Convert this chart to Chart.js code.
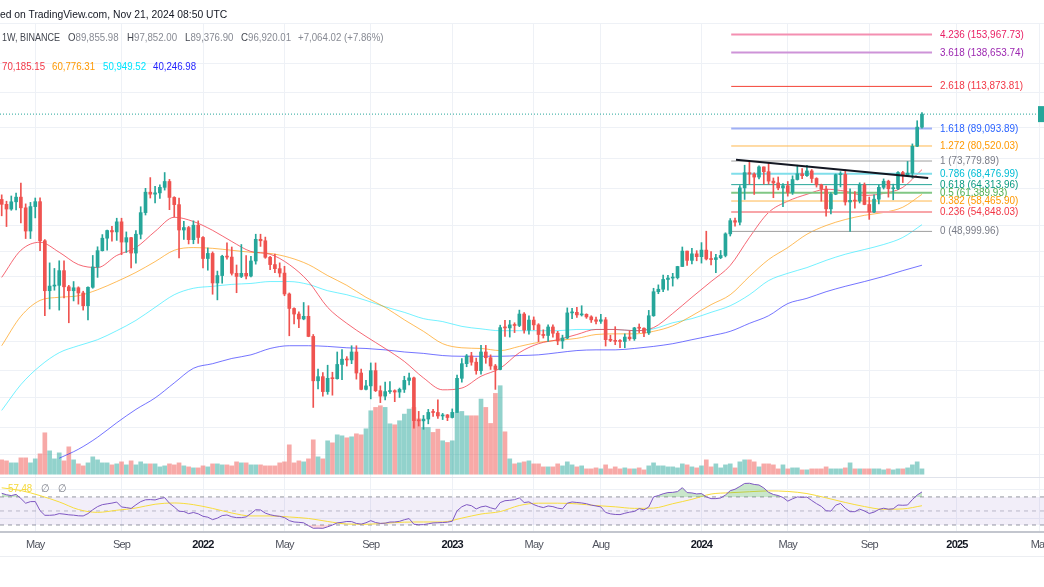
<!DOCTYPE html>
<html>
<head>
<meta charset="utf-8">
<script src="https://cdn.jsdelivr.net/npm/chart.js@4.4.1/dist/chart.umd.min.js"></script>
<style>
  html, body { margin: 0; padding: 0; background: #fff; }
  #wrap { position: relative; width: 1044px; height: 587px; overflow: hidden; }
  #chart { position: absolute; left: 0; top: 0; }
  .txt { position: absolute; white-space: nowrap; font-family: "Liberation Sans", Arial, sans-serif; font-size: 11px; line-height: 14px;
         transform: scaleX(0.88); transform-origin: 0 50%; }
  .k { color: #42464f; }
  .v { color: #878a93; }
  #axisline { position: absolute; left: 0; top: 556px; width: 1044px; height: 0; border-top: 1px solid #eceef2; }
</style>
</head>
<body>
<div id="wrap">
  <canvas id="chart" width="1044" height="587"></canvas>
  <div id="axisline"></div>
  <div class="txt" id="pub" style="top:7px; color:#131722; transform:scaleX(0.94)"><span id="pubcut">Publish</span>ed on TradingView.com, Nov 21, 2024 08:50 UTC</div>
  <div class="txt k" style="top:30px; left:2px; transform:scaleX(0.82)">1W, BINANCE</div>
  <div class="txt" style="top:30px; left:68px"><span class="k">O</span><span class="v">89,855.98</span></div>
  <div class="txt" style="top:30px; left:127px"><span class="k">H</span><span class="v">97,852.00</span></div>
  <div class="txt" style="top:30px; left:185px"><span class="k">L</span><span class="v">89,376.90</span></div>
  <div class="txt" style="top:30px; left:241px"><span class="k">C</span><span class="v">96,920.01</span></div>
  <div class="txt v" style="top:30px; left:298px">+7,064.02 (+7.86%)</div>
  <div class="txt" style="top:59px; left:2px; color:#f23645">70,185.15</div>
  <div class="txt" style="top:59px; left:52px; color:#ff9800">60,776.31</div>
  <div class="txt" style="top:59px; left:103px; color:#00e5ff">50,949.52</div>
  <div class="txt" style="top:59px; left:153px; color:#2424ff">40,246.98</div>
  <div class="txt" style="top:481px; left:8px; color:#f5d83a">57.48</div>
  <div class="txt" style="top:481px; left:41px; color:#787b86">&#8709;</div>
  <div class="txt" style="top:481px; left:58px; color:#787b86">&#8709;</div>
</div>
<script>
// weekly BTCUSDT candles, week 0 = 15 Mar 2021 ... week 192 = 18 Nov 2024
const open = [
  59000,57350,55800,58200,59800,56200,49100,56600,58250,46400,
  34700,35650,35800,39000,35500,34700,35300,34250,31800,35400,
  39850,43800,47100,49250,48850,51800,46050,47250,43200,48200,
  54650,61550,60850,61300,63300,65500,59700,57250,49400,50100,
  46700,50800,47300,41850,43100,36300,37900,42400,42200,38400,
  37700,38400,37800,41250,46800,46400,42150,40400,39450,38450,
  34050,31300,30300,29450,29900,26600,20550,21050,19300,20850,
  20800,22600,23300,23200,24300,21500,19550,19950,21800,19400,
  18800,19300,19400,19250,19550,20600,20900,16300,16280,16450,
  17100,17090,16750,16850,16600,17100,20850,22700,23750,22900,
  21800,24300,23500,22400,21950,28000,27950,28450,28350,30300,
  27600,29250,28450,26900,26750,28100,27100,25900,26350,30500,
  30600,30150,30250,29800,29300,29050,29300,26100,26000,25850,
  25830,26500,26250,27950,27900,27150,30000,34500,35000,37050,
  37350,37450,39950,43700,41400,43000,42300,43950,41750,41600,
  42050,42600,48300,52150,51700,63100,68950,68400,67200,71300,
  69350,65650,64950,63100,63900,61500,66250,68500,67750,69650,
  66650,64250,62650,55850,60800,68150,68250,58150,58700,58450,
  64200,57300,54850,59100,63300,65600,62800,62850,69000,67950,
  68750,80400,89856
];
const high = [
  60600,58400,60200,61200,64850,57500,58000,59500,59600,46700,
  40800,39500,41300,41300,35800,36600,35500,34600,35500,42600,
  44800,48100,49400,50500,52900,52900,48850,47350,49200,56550,
  62950,67000,63700,64270,69000,66300,59950,59450,51950,50450,
  52100,52100,47550,44500,43500,38900,42650,45850,44750,40300,
  45400,42600,42400,48200,48200,47400,42400,42950,40800,40000,
  34250,31400,30700,32400,31800,26900,22000,21550,22500,21600,
  24300,24650,23650,25200,25200,22000,20600,22800,22800,19950,
  20400,20450,19500,19700,21100,21500,21000,17200,16800,17400,
  17400,18400,17000,16900,17450,21250,23400,23950,24250,23450,
  25250,25250,23900,22600,28400,29200,29200,28800,31000,30550,
  30000,29800,28650,27650,28450,28450,27400,26800,31400,31300,
  31500,31800,30350,30000,29750,30250,29700,26800,28150,26100,
  27000,27450,28050,28600,27950,30950,35200,35900,38000,37950,
  38400,40000,44750,43700,44400,43800,45900,49050,43600,42850,
  43850,48600,52800,52950,64000,72000,73777,68900,71750,71300,
  72800,66850,67250,64750,65500,67700,72000,70600,71950,70200,
  66950,64500,63800,61400,68400,69350,70050,62750,61800,65000,
  64950,59800,60650,64150,66500,66000,64500,69400,69500,73600,
  81500,93250,97852
];
const low = [
  53650,50400,55400,55500,51500,47000,47000,53000,43800,30000,
  31200,34800,31000,33300,28800,32700,32100,31000,29300,35200,
  37500,43700,43900,46300,46500,42800,43350,39600,40750,46900,
  53900,59500,57800,59400,62300,55600,53250,42000,46750,45550,
  45600,45700,39650,39100,34000,32900,36250,41700,38000,34300,
  37450,37150,37600,40500,44900,41900,39200,38550,37600,33700,
  26700,28600,28000,29300,26550,17600,19600,18780,19000,18900,
  20750,20700,22400,22700,20750,19500,19500,18500,19300,18100,
  18400,19100,18200,18650,19200,20050,15600,15800,15500,16000,
  16700,16500,16400,16300,16550,17100,20400,22300,22500,21350,
  21350,22750,21950,19550,21900,26600,26500,27200,28150,27100,
  26950,27650,25800,26350,25850,26500,25350,24800,26250,29500,
  29700,29950,29550,28850,28600,28700,25150,25800,25350,24900,
  24900,26000,26000,27200,26550,26900,29900,34100,34500,34800,
  35650,37150,39950,40200,40550,41300,40750,41500,40300,38550,
  41800,42250,47700,50500,50900,59000,64500,60750,66450,64500,
  64500,59600,62400,56550,60150,60750,66050,66600,67500,65100,
  63400,58400,53500,54250,60650,63450,57100,49000,56100,57800,
  57200,52550,54600,57500,62700,59800,58900,62450,65100,67500,
  66800,80200,89377
];
const close = [
  57350,55800,58200,59800,56200,49100,56600,58250,46400,34700,
  35650,35800,39000,35500,34700,35300,34250,31800,35400,39850,
  43800,47100,49250,48850,51800,46050,47250,43200,48200,54650,
  61550,60850,61300,63300,65500,59700,57250,49400,50100,46700,
  50800,47300,41850,43100,36300,37900,42400,42200,38400,37700,
  38400,37800,41250,46800,46400,42150,40400,39450,38450,34050,
  31300,30300,29450,29900,26600,20550,21050,19300,20850,20800,
  22600,23300,23200,24300,21500,19550,19950,21800,19400,18800,
  19300,19400,19250,19550,20600,20900,16300,16280,16450,17100,
  17090,16750,16850,16600,17100,20850,22700,23750,22900,21800,
  24300,23500,22400,21950,28000,27950,28450,28350,30300,27600,
  29250,28450,26900,26750,28100,27100,25900,26350,30500,30600,
  30150,30250,29800,29300,29050,29300,26100,26000,25850,25830,
  26500,26250,27950,27900,27150,30000,34500,35000,37050,37350,
  37450,39950,43700,41400,43000,42300,43950,41750,41600,42050,
  42600,48300,52150,51700,63100,68950,68400,67200,71300,69350,
  65650,64950,63100,63900,61500,66250,68500,67750,69650,66650,
  64250,62650,55850,60800,68150,68250,58150,58700,58450,64200,
  57300,54850,59100,63300,65600,62800,62850,69000,67950,68750,
  80400,89856,96920
];
// volume, thousand BTC
const volume = [
  429,399,339,339,489,489,339,459,609,1239,
  699,459,639,399,819,429,309,249,339,519,
  429,339,339,279,309,369,279,399,279,369,
  309,309,309,219,249,309,279,339,249,219,
  189,189,249,219,309,309,279,279,249,369,
  339,339,279,279,279,249,249,249,339,369,
  879,339,399,369,459,1029,519,459,999,939,
  1179,1149,1089,1119,1209,1179,1359,1899,1999,2049,
  2000,1509,1479,1600,1799,1949,1999,1659,1399,1399,
  1250,1349,1000,950,1000,1849,1879,1749,1749,1749,
  2249,1999,1519,2419,2649,1269,459,309,339,369,
  399,309,309,219,219,219,309,249,369,279,
  219,249,159,159,189,159,279,159,219,159,
  189,159,159,189,129,249,339,249,249,219,
  219,189,309,279,219,189,249,429,219,309,
  189,279,309,189,369,429,429,369,219,309,
  309,279,159,279,159,189,189,129,129,159,
  159,159,219,159,159,159,189,339,159,159,
  159,159,159,159,129,159,129,159,159,189,
  279,369,159
];
const rsi = [
  75.2,73.1,71.9,73.6,67.8,61.0,63.3,63.4,50.5,43.8,
  43.8,44.3,46.2,45.5,44.5,44.0,43.1,42.9,46.2,51.7,
  56.2,59.0,60.1,61.2,62.7,55.7,54.8,53.6,58.7,63.3,
  65.9,66.2,65.7,67.8,69.0,61.0,55.7,49.6,49.2,46.2,
  47.8,45.9,42.4,41.1,37.6,39.8,43.4,44.3,41.7,40.5,
  40.5,41.5,46.3,51.7,51.4,46.9,44.6,43.2,42.3,40.5,
  36.2,34.3,33.8,33.1,29.0,25.3,25.5,25.2,27.4,29.9,
  33.0,33.8,35.0,34.8,32.2,31.2,33.2,36.2,33.5,32.3,
  32.6,34.2,34.3,35.2,37.5,39.1,31.1,30.3,30.5,31.7,
  32.9,33.2,33.5,34.0,35.3,50.2,56.0,59.0,57.5,52.9,
  55.8,57.0,54.5,52.6,61.9,64.6,65.2,66.1,68.6,62.0,
  62.9,59.1,56.5,54.8,57.1,56.2,54.0,53.0,61.1,62.8,
  62.1,61.4,60.3,58.3,57.1,55.8,47.9,45.9,45.0,44.8,
  46.7,48.3,49.3,53.3,51.6,55.6,70.0,72.0,74.5,76.2,
  76.5,77.6,83.2,76.2,75.7,74.3,74.8,70.1,67.6,67.6,
  68.5,72.7,78.9,81.0,84.9,89.2,89.5,87.8,87.0,82.8,
  76.6,73.5,72.0,69.2,64.0,67.3,70.0,69.4,69.8,64.9,
  60.4,56.5,50.3,49.8,58.2,60.7,53.8,49.0,49.0,52.6,
  50.0,46.4,48.3,52.1,53.9,52.5,53.1,58.5,58.1,58.5,
  66.2,72.7,77.1
];

// moving averages and RSI average, read every 4th week
const maWeeks = [0,4,8,12,16,20,24,28,32,36,40,44,48,52,56,60,64,68,72,76,80,84,88,92,96,
  100,104,108,112,116,120,124,128,132,136,140,144,148,152,156,160,164,168,172,176,180,184,188,192];
const maRed = [37500,43900,46000,43400,40400,39700,42600,44600,49000,53200,51900,49300,46200,43600,42900,40400,
  36600,31500,28700,26600,24800,23000,20900,19500,19700,21100,22100,24200,25500,26100,26900,27700,27700,27500,
  28000,30400,33400,36600,40200,47300,54700,58400,60800,62600,61900,60400,61100,63300,70185];
const maOrange = [25200,29900,32800,33400,33700,34900,36600,38600,41100,43900,44600,44400,43900,43400,43100,42100,
  40400,37900,35800,33400,31500,29300,27400,25500,24900,24800,24500,25100,25700,26000,26300,26900,27000,27000,
  27400,28300,30000,32000,33900,37700,41600,44600,48200,50700,52500,53800,54700,56400,60776];
const maCyan = [17300,20100,22400,24200,25200,26100,27500,29200,31500,33900,35200,35600,36000,36200,36600,36600,
  36000,34700,33900,32800,31600,30600,29500,29000,28200,27800,27500,27500,27500,27500,27700,27700,27700,27500,
  27800,28800,29500,30600,31800,33900,36800,38400,39700,41400,42900,44100,45400,47300,50950];
// blue average starts at week 12
const maBlue = [13100,13800,14800,16100,17400,18600,20300,22100,22700,23400,23900,24800,25200,25200,25100,24900,
  24800,24600,24300,24100,23800,23700,23700,23700,23800,23900,24200,24500,24600,24600,24800,25100,25500,26100,
  26700,27400,28700,30000,32200,33200,34500,35600,36600,37700,39000,40247];
const rsiMa = [83.0,79.1,71.9,62.9,52.1,48.0,51.0,54.2,59.6,61.4,59.0,53.6,47.1,42.9,42.9,41.4,39.3,35.0,31.4,
  31.0,32.6,34.0,34.3,34.3,39.8,45.6,49.1,57.8,61.1,61.1,60.1,57.7,55.9,53.7,54.1,60.3,66.6,74.1,76.0,77.4,
  78.6,77.8,74.8,68.7,62.1,56.3,52.4,52.9,57.48];

// fibonacci retracement
const fibRatios = [4.236, 3.618, 2.618, 1.618, 1.272, 1, 0.786, 0.618, 0.5, 0.382, 0.236, 0];
const fibPrices = [153967.73, 138653.74, 113873.81, 89093.89, 80520.03, 73779.89, 68476.99, 64313.96, 61389.93, 58465.90, 54848.03, 48999.96];
const fibFromWeek = 152.2;
const fibToWeek = 194.1;

// trend line
const trendWeeks = [153.2, 193.3];
const trendPrices = [74370, 66850];

// time axis
const tickWeeks = [7, 25, 42, 59, 77, 94, 111, 125, 146, 164, 181, 199.3, 216.6];
const tickLabels = ['May', 'Sep', '2022', 'May', 'Sep', '2023', 'May', 'Aug', '2024', 'May', 'Sep', '2025', 'May'];

// background grid
const priceGrid = [163700, 130400, 110200, 89800, 75000, 62900, 50700, 43500, 37600, 31600, 25800, 21800, 18600, 15700, 13400];
const rsiGrid = [97, 81, 39.6];

const FONT = '"Liberation Sans", Arial, sans-serif';
const UP = '#26a69a', DOWN = '#ef5350';
const X_MIN = -0.355, X_MAX = 217.46;

const fibLineColors = ['#f48fb1', '#ce93d8', '#f44336', '#9fb0f5', '#ffb74d', '#9e9e9e', '#80deea', '#26a69a', '#81c784', '#ffb74d', '#f8a5a8', '#9e9e9e'];
const fibTextColors = ['#e91e63', '#9c27b0', '#f23645', '#2962ff', '#ff9800', '#787b86', '#00bcd4', '#089981', '#4caf50', '#ff9800', '#f23645', '#787b86'];
const fibWidths = [2, 2, 1, 2, 1, 1, 2, 1, 2, 1, 2, 1];

const pub = document.getElementById('pub');
pub.style.left = -(document.getElementById('pubcut').offsetWidth * 0.94) + 'px';

const isUp = i => close[i] >= open[i];
const money = v => v.toLocaleString('en-US', { minimumFractionDigits: 2, maximumFractionDigits: 2 });
const noWidth = axis => { axis.width = 0; };

function hline(value, axis, color, dash, order, extra) {
    return Object.assign({
        type: 'line', yAxisID: axis, order: order,
        data: [{ x: X_MIN, y: value }, { x: X_MAX, y: value }],
        borderColor: color, borderWidth: 1, borderDash: dash, pointRadius: 0, fill: false
    }, extra || {});
}

function maLine(weeks, values, color) {
    return {
        type: 'line', yAxisID: 'y', order: 50,
        data: weeks.map((w, k) => ({ x: w, y: values[k] })),
        borderColor: color, borderWidth: 1, pointRadius: 0,
        cubicInterpolationMode: 'monotone', fill: false
    };
}

const datasets = [];

// volume
datasets.push({
    type: 'bar', yAxisID: 'vol', order: 100, grouped: false, barThickness: 4,
    data: volume.map((v, i) => ({ x: i, y: [0, v] })),
    backgroundColor: volume.map((v, i) => isUp(i) ? 'rgba(38,166,154,0.5)' : 'rgba(239,83,80,0.5)')
});

// rsi band, 70 / 30 / 50
datasets.push(hline(70, 'rsi', '#9598a1', [4, 4], 90, { fill: '+1', backgroundColor: 'rgba(126,87,194,0.1)' }));
datasets.push(hline(30, 'rsi', '#9598a1', [4, 4], 90));
datasets.push(hline(50, 'rsi', 'rgba(149,152,161,0.6)', [4, 4], 90));

datasets.push({
    type: 'line', yAxisID: 'rsi', order: 80,
    data: maWeeks.map((w, k) => ({ x: w, y: rsiMa[k] })),
    borderColor: '#f7dc3c', borderWidth: 1, pointRadius: 0, cubicInterpolationMode: 'monotone', fill: false
});
datasets.push({
    type: 'line', yAxisID: 'rsi', order: 76,
    data: rsi.map((v, i) => ({ x: i, y: v })),
    borderWidth: 0, borderColor: 'rgba(0,0,0,0)', pointRadius: 0,
    fill: { target: { value: 30 }, above: 'rgba(0,0,0,0)', below: 'rgba(242,54,69,0.2)' }
});
datasets.push({
    type: 'line', yAxisID: 'rsi', order: 75,
    data: rsi.map((v, i) => ({ x: i, y: v })),
    borderColor: '#7e57c2', borderWidth: 1, pointRadius: 0,
    fill: { target: { value: 70 }, above: 'rgba(76,175,80,0.3)', below: 'rgba(0,0,0,0)' }
});

// moving averages
datasets.push(maLine(maWeeks, maRed, 'rgba(242,54,69,0.75)'));
datasets.push(maLine(maWeeks, maOrange, 'rgba(255,152,0,0.65)'));
datasets.push(maLine(maWeeks, maCyan, 'rgba(0,229,255,0.55)'));
datasets.push(maLine(maWeeks.slice(3), maBlue, 'rgba(41,41,255,0.65)'));

// last price line
datasets.push(hline(close[close.length - 1], 'y', UP, [1, 2], 45));

// fib levels
fibPrices.forEach((p, k) => {
    datasets.push({
        type: 'line', yAxisID: 'y', order: 40,
        data: [{ x: fibFromWeek, y: p }, { x: fibToWeek, y: p }],
        borderColor: fibLineColors[k], borderWidth: fibWidths[k], pointRadius: 0, fill: false
    });
});

// candles
datasets.push({
    type: 'bar', yAxisID: 'y', order: 30, grouped: false, barThickness: 1,
    data: high.map((h, i) => ({ x: i, y: [low[i], h] })),
    backgroundColor: high.map((h, i) => isUp(i) ? UP : DOWN)
});
datasets.push({
    type: 'bar', yAxisID: 'y', order: 20, grouped: false, barThickness: 3, minBarLength: 1,
    data: open.map((o, i) => ({ x: i, y: [o, close[i]] })),
    backgroundColor: open.map((o, i) => isUp(i) ? UP : DOWN)
});

// trend line
datasets.push({
    type: 'line', yAxisID: 'y', order: 10,
    data: trendWeeks.map((w, k) => ({ x: w, y: trendPrices[k] })),
    borderColor: '#131722', borderWidth: 2, pointRadius: 0, fill: false
});

const narrowText = {
    id: 'narrowText',
    beforeDraw(chart) {
        // squeeze the axis labels a little, the snapshot font is narrow
        chart.ctx.letterSpacing = '-0.8px';
    },
    afterDatasetsDraw(chart) {
        const { ctx, chartArea } = chart;
        const x = chart.scales.x, y = chart.scales.y;
        ctx.save();
        ctx.letterSpacing = '0px';
        ctx.font = '11px ' + FONT;
        ctx.textBaseline = 'middle';
        fibPrices.forEach((p, k) => {
            ctx.save();
            ctx.translate(x.getPixelForValue(fibToWeek) + 8, y.getPixelForValue(p));
            ctx.scale(0.9, 1);
            ctx.fillStyle = fibTextColors[k];
            ctx.fillText(String(fibRatios[k]) + ' (' + money(p) + ')', 0, 0);
            ctx.restore();
        });
        // price tag peeking in from the cropped price scale
        const py = y.getPixelForValue(close[close.length - 1]);
        ctx.fillStyle = UP;
        ctx.fillRect(chartArea.right - 6, py - 8, 6, 16);
        ctx.restore();
    }
};

new Chart(document.getElementById('chart'), {
    type: 'bar',
    data: { datasets: datasets },
    options: {
        responsive: false,
        animation: false,
        devicePixelRatio: 1,
        layout: { autoPadding: false, padding: { top: 23, bottom: 29.8, left: 0, right: 0 } },
        plugins: { legend: { display: false }, tooltip: { enabled: false } },
        scales: {
            x: {
                type: 'linear', min: X_MIN, max: X_MAX, offset: false,
                afterBuildTicks: axis => { axis.ticks = tickWeeks.map(w => ({ value: w })); },
                // the last label runs off the edge, as in the snapshot, so no room is kept for it
                afterFit: axis => { axis.paddingLeft = 0; axis.paddingRight = 0; },
                ticks: {
                    autoSkip: false, maxRotation: 0, padding: 6,
                    callback: (value, index) => tickLabels[index],
                    color: ctx => /^\d{4}$/.test(tickLabels[ctx.index]) ? '#131722' : '#50535e',
                    font: ctx => ({ family: FONT, size: 11, weight: /^\d{4}$/.test(tickLabels[ctx.index]) ? 'bold' : 'normal' })
                },
                grid: { color: '#eef1f6', drawTicks: false, offset: false },
                border: { display: true, color: '#c3c6ce', width: 2 }
            },
            y: {
                type: 'logarithmic', position: 'right', min: 8529, max: 164650,
                afterBuildTicks: axis => { axis.ticks = priceGrid.map(v => ({ value: v })); },
                afterFit: noWidth,
                ticks: { display: false },
                grid: { color: '#eef1f6', drawTicks: false },
                border: { display: false }
            },
            rsi: {
                type: 'linear', position: 'right', min: 20, max: 745.7,
                afterBuildTicks: axis => { axis.ticks = rsiGrid.map(v => ({ value: v })); },
                afterFit: noWidth,
                ticks: { display: false },
                grid: { color: ctx => ctx.index === 0 ? '#e0e3eb' : '#eef1f6', drawTicks: false },
                border: { display: false }
            },
            vol: { type: 'linear', display: false, min: -1731, max: 13509 }
        }
    },
    plugins: [narrowText]
});
</script>
</body>
</html>
